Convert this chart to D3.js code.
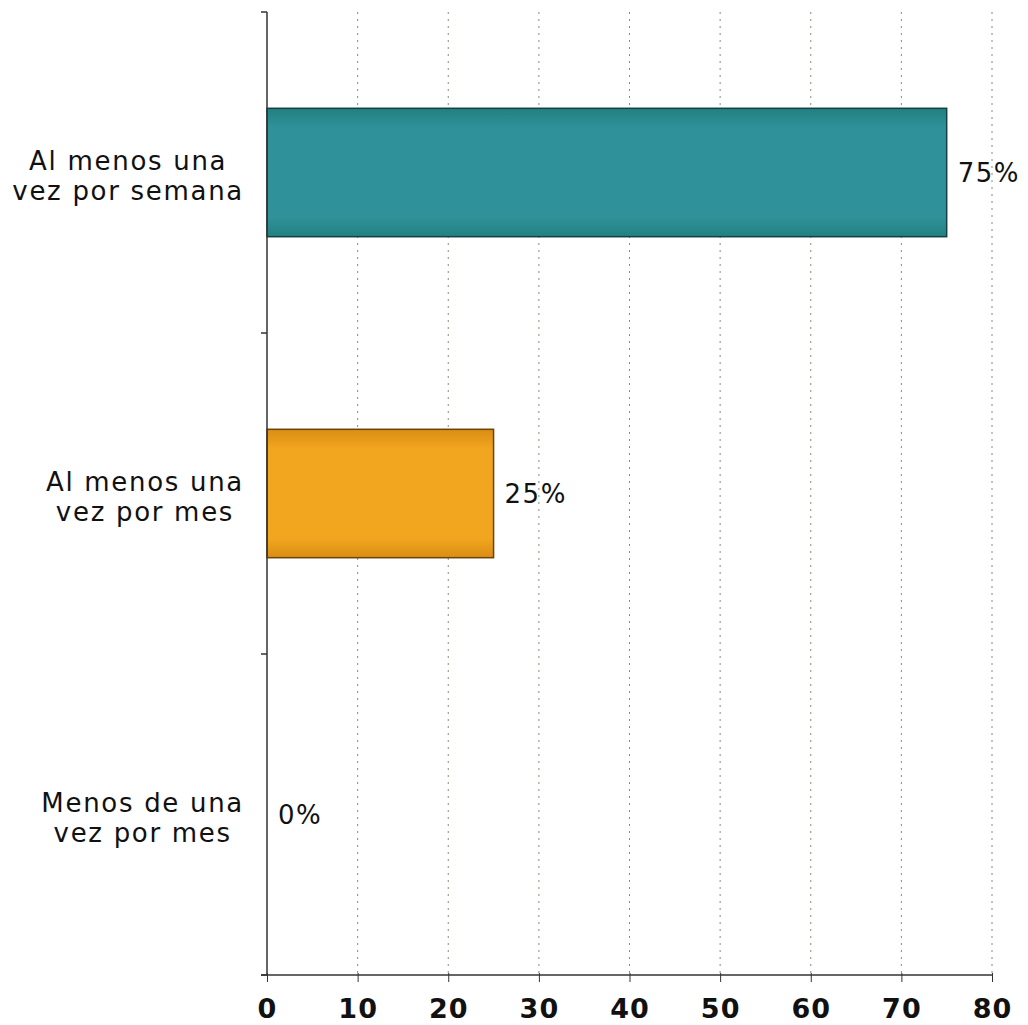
<!DOCTYPE html>
<html>
<head>
<meta charset="utf-8">
<script src="https://cdn.jsdelivr.net/npm/d3@7"></script>
<style>
  body { margin: 0; background: #fff; }
  svg { display: block; font-family: "DejaVu Sans", Verdana, sans-serif; }
</style>
</head>
<body>
<svg id="chart" width="1028" height="1025"></svg>
<script>
// data
var categories = [
    ["Al menos una", "vez por semana"],
    ["Al menos una", "vez por mes"],
    ["Menos de una", "vez por mes"]
];
var values = [75, 25, 0];
var xTicks = [0, 10, 20, 30, 40, 50, 60, 70, 80];

var margin = { top: 12, right: 36, bottom: 50, left: 267 };
var width = 1028, height = 1025;

var svg = d3.select("#chart");
var innerW = width - margin.left - margin.right;
var innerH = height - margin.top - margin.bottom;

var x = d3.scaleLinear().domain([0, 80]).range([0, innerW]);
var y = d3.scaleBand().domain(d3.range(categories.length)).range([0, innerH]).paddingInner(0.6).paddingOuter(0.3);

// gradients for the bars
var defs = svg.append("defs");
function addGradient(id, edge, mid) {
    var g = defs.append("linearGradient").attr("id", id)
        .attr("x1", 0).attr("y1", 0).attr("x2", 0).attr("y2", 1);
    g.append("stop").attr("offset", "0%").attr("stop-color", edge);
    g.append("stop").attr("offset", "15%").attr("stop-color", mid);
    g.append("stop").attr("offset", "85%").attr("stop-color", mid);
    g.append("stop").attr("offset", "100%").attr("stop-color", edge);
}
addGradient("gTeal", "#22807f", "#2f929a");
addGradient("gOrange", "#d98e14", "#f2a51f");
var fills = ["url(#gTeal)", "url(#gOrange)", "#999"];
var strokes = ["#143f44", "#6b4208", "#555"];

var g = svg.append("g").attr("transform", "translate(" + margin.left + "," + margin.top + ")");

// dotted vertical grid
g.selectAll("line.grid")
    .data(xTicks.slice(1))
    .enter().append("line")
    .attr("class", "grid")
    .attr("x1", function (d) { return x(d); })
    .attr("x2", function (d) { return x(d); })
    .attr("y1", 0).attr("y2", innerH)
    .attr("stroke", "#8a8a7a")
    .attr("stroke-width", 1)
    .attr("stroke-dasharray", "2,5");

// bars
g.selectAll("rect.bar")
    .data(values)
    .enter().append("rect")
    .attr("class", "bar")
    .attr("x", 0)
    .attr("y", function (d, i) { return y(i); })
    .attr("width", function (d) { return x(d); })
    .attr("height", y.bandwidth())
    .attr("fill", function (d, i) { return fills[i]; })
    .attr("stroke", function (d, i) { return d > 0 ? strokes[i] : "none"; })
    .attr("stroke-width", 1.5);

// value labels
g.selectAll("text.val")
    .data(values)
    .enter().append("text")
    .attr("class", "val")
    .attr("x", function (d) { return x(d) + 11; })
    .attr("y", function (d, i) { return y(i) + y.bandwidth() / 2; })
    .attr("dy", "0.36em")
    .attr("font-size", 26)
    .attr("letter-spacing", 1.5)
    .attr("fill", "#111")
    .text(function (d) { return d + "%"; });

// x axis
var xAxis = d3.axisBottom(x).tickValues(xTicks).tickSize(7).tickPadding(17);
var gx = g.append("g").attr("transform", "translate(0," + innerH + ")").call(xAxis);
gx.select(".domain").attr("stroke", "#333").attr("stroke-width", 1.5).attr("d", "M-6,0H" + innerW);
gx.selectAll(".tick line").attr("stroke", "#333").attr("y1", -2);
gx.selectAll(".tick text")
    .attr("font-size", 27).attr("font-weight", "bold")
    .attr("letter-spacing", 1)
    .attr("fill", "#111").attr("font-family", "DejaVu Sans, sans-serif");

// y axis line and separator ticks
var sep = [0, innerH / 3, 2 * innerH / 3, innerH];
g.append("line").attr("x1", 0).attr("x2", 0).attr("y1", 0).attr("y2", innerH)
    .attr("stroke", "#333").attr("stroke-width", 1.5);
g.selectAll("line.ytick")
    .data(sep)
    .enter().append("line")
    .attr("class", "ytick")
    .attr("x1", -6).attr("x2", 0)
    .attr("y1", function (d) { return d; }).attr("y2", function (d) { return d; })
    .attr("stroke", "#333").attr("stroke-width", 1.5);

// category labels: lines centred in a block right-aligned against the axis
var labelRight = -23;
categories.forEach(function (lines, i) {
    var cy = y(i) + y.bandwidth() / 2 + 3;
    var t = g.append("text")
        .attr("font-size", 26)
        .attr("letter-spacing", 1.7)
        .attr("fill", "#111")
        .attr("text-anchor", "middle");
    var spans = lines.map(function (s, j) {
        return t.append("tspan").attr("y", cy + (j - 0.5) * 30).attr("dy", "0.36em").text(s);
    });
    var maxW = d3.max(spans, function (s) { return s.node().getComputedTextLength(); });
    spans.forEach(function (s) { s.attr("x", labelRight - maxW / 2); });
});
</script>
</body>
</html>
